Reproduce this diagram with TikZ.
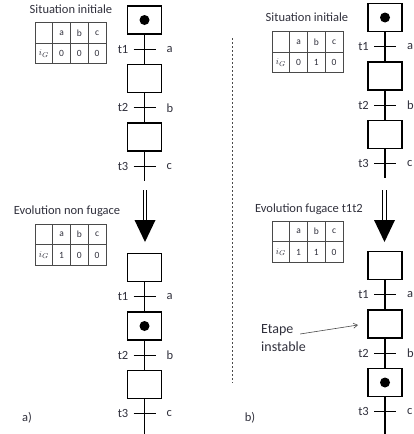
\documentclass[tikz,border=0pt]{standalone}
\usepackage{fontspec}
\setmainfont{Carlito}
\usetikzlibrary{arrows.meta}
\definecolor{ink}{HTML}{30303C}
\definecolor{rule}{HTML}{4A4A4A}
\tikzset{
  stepbox/.style={draw, line width=1.2pt, minimum width=34pt, minimum height=28pt, inner sep=0pt},
  link/.style={line width=1.2pt},
  tick/.style={line width=1.2pt},
  lbl/.style={font=\fontsize{12.5}{14}\selectfont, text=ink, inner sep=0pt},
  cell/.style={font=\fontsize{9.5}{10}\selectfont, text=ink, inner sep=0pt},
  grid/.style={draw=rule, line width=0.9pt},
  token/.style={circle, fill=black, minimum size=10pt, inner sep=0pt},
  shaft/.style={line width=0.8pt, double distance=2.6pt},
  head/.style={fill=black},
  sep/.style={line width=0.7pt, dash pattern=on 2pt off 2pt, draw=rule},
  pointer/.style={line width=0.6pt, draw=rule, -{Straight Barb[length=4pt, width=5pt]}}
}
% #1 prefix, #2 x, #3 y of first step, #4 active step, #5 y of open end
\newcommand{\grafcet}[5]{%
  \node[stepbox] (#1s1) at (#2,#3) {};
  \node[stepbox] (#1s2) at (#2,#3+58.5) {};
  \node[stepbox] (#1s3) at (#2,#3+117) {};
  \coordinate (#1end) at (#2,#5);
  \draw[link] (#1s1.south) -- (#1s2.north);
  \draw[link] (#1s2.south) -- (#1s3.north);
  \draw[link] (#1s3.south) -- (#1end);
  \foreach \k/\c in {1/a,2/b,3/c} {
    \coordinate (#1t\k) at (#2,#3+29.25+58.5*\k-58.5);
    \draw[tick] ([xshift=-11pt]#1t\k) -- ([xshift=11pt]#1t\k);
    \node[lbl, anchor=east] (#1tl\k) at ([xshift=-16pt]#1t\k) {t\k};
    \node[lbl, anchor=west] (#1rl\k) at ([xshift=22pt]#1t\k) {\c};
  }
  \node[token] (#1tok) at (#1s#4) {};
}
% #1 prefix, #2 left x, #3 top y, #4-#6 values of a, b, c
\newcommand{\gtable}[6]{%
  \draw[grid] (#2,#3) rectangle (#2+71,#3+41);
  \draw[grid] (#2,#3+20.5) -- (#2+71,#3+20.5);
  \foreach \i in {1,2,3} {\draw[grid] (#2+17.75*\i,#3) -- (#2+17.75*\i,#3+41);}
  \node[cell] (#1ha) at (#2+26.6,#3+10.5) {a};
  \node[cell] (#1hb) at (#2+44.4,#3+10.5) {b};
  \node[cell] (#1hc) at (#2+62.1,#3+10.5) {c};
  \node[cell] (#1ig) at (#2+8.9,#3+31) {$i_{G}$};
  \node[cell] (#1va) at (#2+26.6,#3+31) {#4};
  \node[cell] (#1vb) at (#2+44.4,#3+31) {#5};
  \node[cell] (#1vc) at (#2+62.1,#3+31) {#6};
}
\begin{document}
\begin{tikzpicture}[x=1pt, y=-1pt]
\useasboundingbox (0,0) rectangle (414,434);

% ---- a) non-transient evolution
\node[lbl] (lsit) at (71,9) {Situation initiale};
\gtable{LT}{35}{22.5}{0}{0}{0}
\grafcet{LA}{144.5}{20}{1}{181}

\coordinate (Ltail) at (145,190);
\coordinate (Lbase) at (145,220);
\coordinate (Ltip) at (145,242);
\draw[shaft] (Ltail) -- (Lbase);
\fill[head] ([xshift=-10.5pt]Lbase) -- ([xshift=10.5pt]Lbase) -- (Ltip) -- cycle;

\node[lbl] (levo) at (67,211) {Evolution non fugace};
\gtable{LB}{35}{224}{1}{0}{0}
\grafcet{LB}{144.5}{267.5}{2}{440}
\node[lbl] (lcap) at (27,418) {a)};

% ---- separator
\coordinate (sepA) at (232,38);
\coordinate (sepB) at (232,383);
\draw[sep] (sepA) -- (sepB);

% ---- b) transient evolution
\node[lbl] (rsit) at (307,17) {Situation initiale};
\gtable{RT}{272}{31.5}{0}{1}{0}
\grafcet{RA}{385}{17.5}{1}{178}

\coordinate (Rtail) at (384.5,190);
\coordinate (Rbase) at (384.5,220);
\coordinate (Rtip) at (384.5,242);
\draw[shaft] (Rtail) -- (Rbase);
\fill[head] ([xshift=-10.5pt]Rbase) -- ([xshift=10.5pt]Rbase) -- (Rtip) -- cycle;

\node[lbl] (revo) at (309,209) {Evolution fugace t1t2};
\gtable{RB}{272}{221}{1}{1}{0}
\grafcet{RB}{385}{265.5}{3}{440}

\node[lbl, align=left, anchor=west, font=\fontsize{14}{18}\selectfont] (einst) at (261,338) {Etape\\instable};
\coordinate (Rtarget) at (358,325);
\draw[pointer] ([xshift=-6pt,yshift=4pt]einst.east) -- (Rtarget);
\node[lbl] (rcap) at (250,418) {b)};
\end{tikzpicture}
\end{document}
